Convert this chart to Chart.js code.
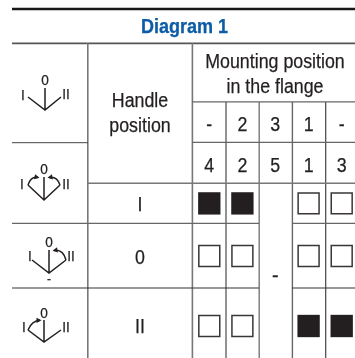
<!DOCTYPE html>
<html><head><meta charset="utf-8">
<style>html,body{margin:0;padding:0;background:#fff}canvas{display:block}</style>
<script src="https://cdn.jsdelivr.net/npm/chart.js@4/dist/chart.umd.min.js"></script>
</head><body><canvas id="c" width="355" height="358"></canvas>
<script>
// Data
const title = 'Diagram 1';
const groupHeader = ['Mounting position', 'in the flange'];
const rowHeader = ['Handle', 'position'];
const handlePositions = ['I', '0', 'II'];
const mountingRow1 = ['-', '2', '3', '1', '-'];
const mountingRow2 = ['4', '2', '5', '1', '3'];
const filledCells = [[0,0],[0,1],[2,3],[2,4]];   // [row, column]
const openCells = [[0,3],[0,4],[1,0],[1,1],[1,3],[1,4],[2,0],[2,1]];
const emptyMark = '-';

// Layout (reference-image units, fed through the chart's scales)
const colCenters = [209.3, 242.4, 275.3, 308.6, 341.7];
const rowCenters = [203.4, 256, 326];
const toPoint = ([r, c]) => ({x: colCenters[c], y: rowCenters[r]});

const ink = '#231f20';
const tableLines = [
 // x1,y1,x2,y2,width,color
 [12,9,355,9,2.4,'#1a1718'],
 [12,43.4,355,43.4,1.8,'#555'],
 [87.8,43,87.8,358,1.6,'#777'],
 [192.4,43,192.4,358,1.6,'#777'],
 [226,102,226,358,1.6,'#777'],
 [259.2,102,259.2,358,1.4,'#777'],
 [292.4,102,292.4,358,1.4,'#666'],
 [325.7,102,325.7,358,1.2,'#444'],
 [12,142.7,88,142.7,1,'#444'],
 [192,101.8,355,101.8,1.2,'#666'],
 [192,142.4,355,142.4,1.2,'#666'],
 [88,183.2,355,183.2,1.4,'#777'],
 [12,223.4,259,223.4,1.3,'#666'],
 [292,223.4,355,223.4,1.3,'#666'],
 [12,288,259,288,1.1,'#333'],
 [292,288,355,288,1.1,'#333']
];
const icons = [
 {ax:45,ay:110,lx:28,rx:61,ey:97,sy:88, zero:[45,85], one:[23,99.5], two:[66,99], arrows:[]},
 {ax:44,ay:200,lx:28,rx:60,ey:185,sy:177, zero:[44,174], one:[22,189], two:[66,189], arrows:['l','r']},
 {ax:49,ay:273,lx:32,rx:66,ey:260,sy:250, zero:[49,246.5], one:[30,260.5], two:[71,260.5], arrows:['r'], dash:[49,283]},
 {ax:44,ay:342,lx:28,rx:61,ey:330,sy:320, zero:[44,317.5], one:[24,332], two:[66,332], arrows:['L']}
];

function text(ctx, str, cx, base, size, sx, weight, color){
  ctx.save();
  ctx.translate(cx, base);
  ctx.scale(sx, 1);
  ctx.font = (weight||'normal') + ' ' + size + 'px "Liberation Sans"';
  ctx.fillStyle = color || ink;
  ctx.strokeStyle = color || ink;
  ctx.lineWidth = 0.25;
  ctx.textAlign = 'center';
  ctx.textBaseline = 'alphabetic';
  ctx.fillText(str, 0, 0);
  ctx.strokeText(str, 0, 0);
  ctx.restore();
}
function arrow(ctx, x0,y0,cx,cy,x1,y1){
  ctx.beginPath(); ctx.moveTo(x0,y0); ctx.quadraticCurveTo(cx,cy,x1,y1); ctx.stroke();
  const a = Math.atan2(y1-cy,x1-cx), h=4.4;
  ctx.beginPath(); ctx.moveTo(x1+Math.cos(a)*1.5,y1+Math.sin(a)*1.5);
  ctx.lineTo(x1-h*Math.cos(a-0.65),y1-h*Math.sin(a-0.65));
  ctx.lineTo(x1-h*Math.cos(a+0.65),y1-h*Math.sin(a+0.65));
  ctx.closePath(); ctx.fill();
}
const tablePlugin = {
 id:'table',
 beforeDatasetsDraw(chart){
  const {ctx, scales:{x:X, y:Y}} = chart;
  const px = v => X.getPixelForValue(v), py = v => Y.getPixelForValue(v);
  ctx.save();
  tableLines.forEach(([a,b,c,d,w,col])=>{
    ctx.strokeStyle=col; ctx.lineWidth=w;
    ctx.beginPath(); ctx.moveTo(px(a),py(b)); ctx.lineTo(px(c),py(d)); ctx.stroke();
  });
  text(ctx,title,px(184.5),py(33.4),20,0.9,'bold','#0c5ca6');
  text(ctx,groupHeader[0],px(275),py(68),20,0.89);
  text(ctx,groupHeader[1],px(275),py(92.5),20,0.89);
  text(ctx,rowHeader[0],px(140),py(107),20,0.89);
  text(ctx,rowHeader[1],px(140),py(132),20,0.89);
  colCenters.forEach((cx,i)=>{
    text(ctx,mountingRow1[i],px(cx),py(mountingRow1[i]==='-'?130.5:131),20,0.89);
    text(ctx,mountingRow2[i],px(cx),py(172),20,0.89);
  });
  const rowBase=[211,264,333];
  handlePositions.forEach((h,i)=>text(ctx,h,px(140),py(rowBase[i]),20,0.89));
  text(ctx,emptyMark,px(275.3),py(282),20,1);
  icons.forEach(ic=>{
    ctx.strokeStyle=ink; ctx.fillStyle=ink; ctx.lineWidth=1.5;
    ctx.beginPath();
    ctx.moveTo(px(ic.lx),py(ic.ey)); ctx.lineTo(px(ic.ax),py(ic.ay)); ctx.lineTo(px(ic.rx),py(ic.ey));
    ctx.moveTo(px(ic.ax),py(ic.ay)); ctx.lineTo(px(ic.ax),py(ic.sy));
    ctx.stroke();
    text(ctx,handlePositions[1],px(ic.zero[0]),py(ic.zero[1]),15.5,0.88);
    text(ctx,handlePositions[0],px(ic.one[0]),py(ic.one[1]),15.5,0.88);
    text(ctx,handlePositions[2],px(ic.two[0]),py(ic.two[1]),15.5,0.88);
    if(ic.dash) text(ctx,emptyMark,px(ic.dash[0]),py(ic.dash[1]),12,1);
    ctx.strokeStyle=ink; ctx.fillStyle=ink; ctx.lineWidth=1.5;
    ic.arrows.forEach(k=>{
      if(k==='l') arrow(ctx,px(ic.lx),py(ic.ey),px(ic.lx+3),py(ic.sy-1),px(ic.ax-6),py(ic.sy+0.5));
      if(k==='r') arrow(ctx,px(ic.rx),py(ic.ey),px(ic.rx-3),py(ic.sy-1),px(ic.ax+5),py(ic.sy+0.5));
      if(k==='L') arrow(ctx,px(ic.lx),py(ic.ey),px(ic.lx+4),py(ic.sy+0.5),px(ic.ax-4),py(ic.sy+0.3));
    });
  });
  ctx.restore();
 }
};
new Chart(document.getElementById('c'),{
 type:'scatter',
 data:{datasets:[
  {label:'Filled', data:filledCells.map(toPoint), pointStyle:'rect', pointRadius:15.8, pointHoverRadius:15.8,
   backgroundColor:ink, borderColor:ink, borderWidth:0},
  {label:'Open', data:openCells.map(toPoint), pointStyle:'rect', pointRadius:14.8, pointHoverRadius:14.8,
   backgroundColor:'#fff', borderColor:'#3a3637', borderWidth:1.5}
 ]},
 options:{
  responsive:false, animation:false, events:[],
  layout:{padding:0, autoPadding:false},
  plugins:{legend:{display:false},tooltip:{enabled:false},title:{display:false}},
  scales:{
   x:{type:'linear',min:0,max:355,display:false},
   y:{type:'linear',min:0,max:358,reverse:true,display:false}
  }
 },
 plugins:[tablePlugin]
});
</script></body></html>
